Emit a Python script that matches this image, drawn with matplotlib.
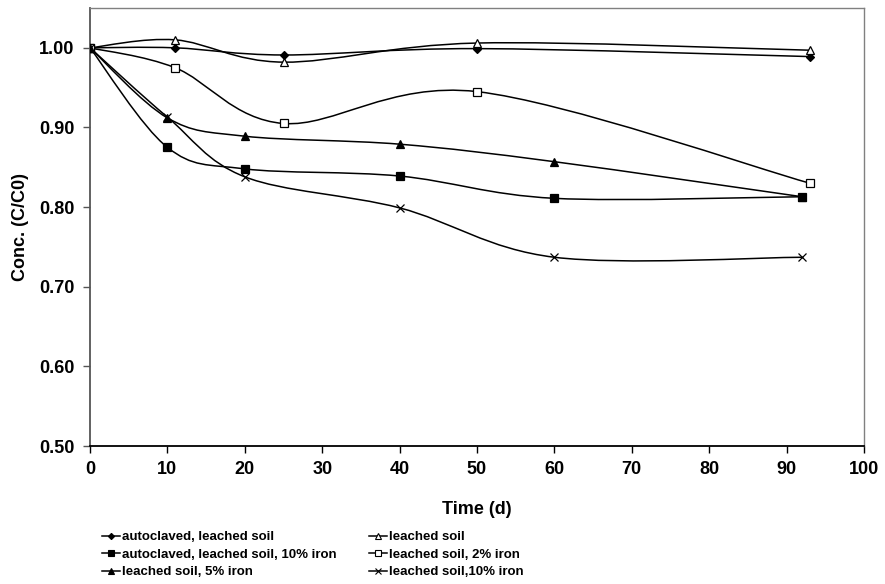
import matplotlib
matplotlib.use("Agg")
from matplotlib import pyplot as plt
from matplotlib.path import Path
from matplotlib.patches import PathPatch
from matplotlib.lines import Line2D

plt.rcParams['font.family'] = ['Liberation Sans', 'DejaVu Sans']
plt.rcParams['font.weight'] = 'bold'

# sampling days
days_a = [0, 11, 25, 50, 93]
days_b = [0, 10, 20, 40, 60, 92]

# concentration ratios C/C0
autoclaved = [1.000, 1.000, 0.991, 0.999, 0.989]
leached = [1.000, 1.010, 0.982, 1.006, 0.997]
autoclaved_10 = [1.000, 0.875, 0.848, 0.839, 0.811, 0.813]
leached_2 = [1.000, 0.975, 0.905, 0.945, 0.830]
leached_5 = [1.000, 0.912, 0.889, 0.879, 0.857, 0.813]
leached_10 = [1.000, 0.913, 0.838, 0.799, 0.737, 0.737]

labels = ["autoclaved, leached soil", "leached soil",
          "autoclaved, leached soil, 10% iron", "leached soil, 2% iron",
          "leached soil, 5% iron", "leached soil,10% iron"]


def smooth_path(xs, ys):
    # spreadsheet-style smoothed line: cubic Bezier through every point
    pts = list(zip(xs, ys))
    n = len(pts)
    verts = [pts[0]]
    codes = [Path.MOVETO]
    for i in range(n - 1):
        p0 = pts[i - 1] if i > 0 else pts[i]
        p1 = pts[i]
        p2 = pts[i + 1]
        p3 = pts[i + 2] if i + 2 < n else pts[i + 1]
        c1 = (p1[0] + (p2[0] - p0[0]) / 6, p1[1] + (p2[1] - p0[1]) / 6)
        c2 = (p2[0] - (p3[0] - p1[0]) / 6, p2[1] - (p3[1] - p1[1]) / 6)
        verts += [c1, c2, p2]
        codes += [Path.CURVE4] * 3
    return Path(verts, codes)


fig = plt.figure(figsize=(8.85, 5.84), dpi=100)
ax = fig.add_axes([90 / 885, 1 - 446 / 584, 774 / 885, 438 / 584])

series = [
    (days_a, autoclaved, dict(marker="D", mfc="black", ms=4.5)),
    (days_a, leached, dict(marker="^", mfc="white", ms=6)),
    (days_b, autoclaved_10, dict(marker="s", mfc="black", ms=5.5)),
    (days_a, leached_2, dict(marker="s", mfc="white", ms=5.5)),
    (days_b, leached_5, dict(marker="^", mfc="black", ms=6)),
    (days_b, leached_10, dict(marker="x", mfc="black", ms=6)),
]

handles = []
for xs, ys, style in series:
    ax.add_patch(PathPatch(smooth_path(xs, ys), fill=False, edgecolor="black",
                           lw=1.1, zorder=2))
    ax.plot(xs, ys, linestyle="none", color="black", mec="black", mew=0.9,
            zorder=3, **style)
    leg_style = dict(style)
    leg_style["ms"] = style["ms"] * 0.7
    handles.append(Line2D([], [], color="black", lw=1.1, mec="black", mew=0.8,
                          **leg_style))

ax.set_xlim(0, 100)
ax.set_ylim(0.5, 1.05)
ax.set_xticks(range(0, 101, 10))
ax.set_yticks([0.5, 0.6, 0.7, 0.8, 0.9, 1.0])
ax.set_yticklabels(["%.2f" % v for v in [0.5, 0.6, 0.7, 0.8, 0.9, 1.0]])
ax.tick_params(axis="both", direction="out", length=5, width=1,
               labelsize=13, pad=6, color="black")
ax.tick_params(axis="y", color="#555555")

for s in ["top", "right"]:
    ax.spines[s].set_color("#808080")
    ax.spines[s].set_linewidth(1)
ax.spines["left"].set_color("#555555")
ax.spines["left"].set_linewidth(1.3)
ax.spines["bottom"].set_color("black")
ax.spines["bottom"].set_linewidth(1.3)

ax.set_xlabel("Time (d)", fontsize=13, fontweight="bold", labelpad=16)
ax.set_ylabel("Conc. (C/C0)", fontsize=13, fontweight="bold")
ax.yaxis.set_label_coords(-0.079, 0.5)

# legend in two columns under the axes
order = [0, 2, 4, 1, 3, 5]
fig.legend([handles[i] for i in order], [labels[i] for i in order],
           loc="upper left", bbox_to_anchor=(102 / 885, 1 - 531 / 584),
           ncol=2, frameon=False,
           prop=dict(family="Liberation Sans", weight="bold", size=9.5),
           handlelength=1.4, handletextpad=0.15, labelspacing=0.4,
           columnspacing=2.4, borderpad=0, borderaxespad=0)

fig.savefig("out.png", dpi=100)
